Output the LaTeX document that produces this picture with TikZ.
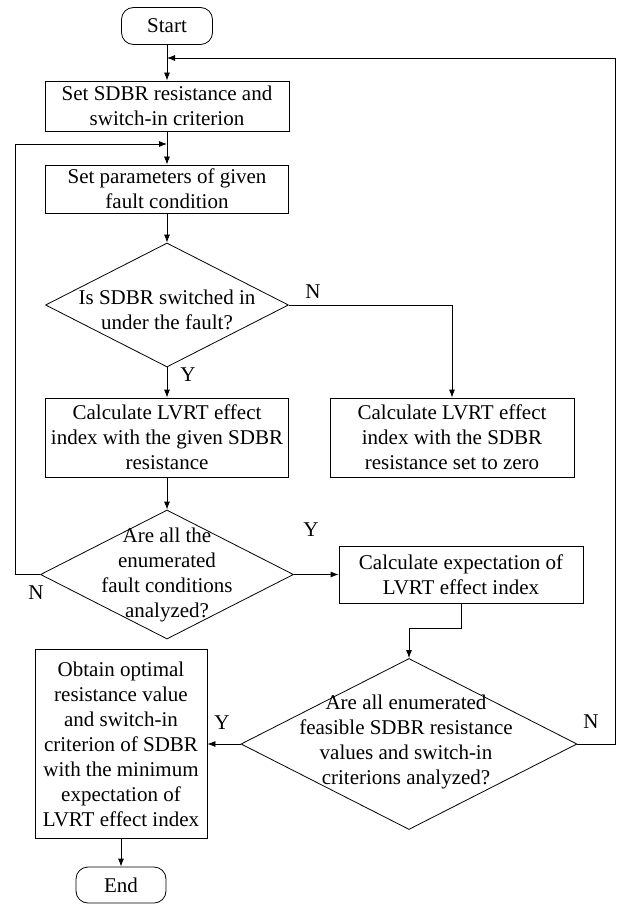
\documentclass[tikz,border=0pt]{standalone}
\usepackage{fontspec}
\setmainfont{Liberation Serif}
\usepackage{tikz}
\usetikzlibrary{shapes,arrows.meta}
\usetikzlibrary{calc}

\begin{document}
\begin{tikzpicture}[x=1pt,y=-1pt,line width=0.8pt,>={Latex[length=8pt,width=6pt]}]%%SDBR flow
                \tikzstyle{every node} = [font=\fontsize{21}{25}\selectfont]
                \tikzstyle{term}  = [draw, rectangle, rounded corners=12pt, inner sep=0pt]
                \tikzstyle{box}  = [draw, rectangle, align=center, inner sep=0pt]
                \tikzstyle{dec}  = [draw, diamond, inner sep=0pt]
                \tikzstyle{lab}  = [inner sep=0pt]
                \useasboundingbox (0,0) rectangle (616,904);
                \node [term, minimum width=91pt, minimum height=37pt](start) at (167,26) {Start};
                \node [box, minimum width=244pt, minimum height=50pt](setr) at (167,106) {Set SDBR resistance and\\switch-in criterion};
                \node [box, minimum width=243pt, minimum height=48pt](setf) at (167,189) {Set parameters of given\\fault condition};
                \node [dec, minimum width=243pt, minimum height=124pt](isin) at (167,305) {};
                \node [align=center](isint) at (167,310) {Is SDBR switched in\\under the fault?};
                \node [box, minimum width=243pt, minimum height=79pt](calcg) at (167,437.5) {Calculate LVRT effect\\index with the given SDBR\\resistance};
                \node [box, minimum width=244pt, minimum height=79pt](calcz) at (452,437.5) {Calculate LVRT effect\\index with the SDBR\\resistance set to zero};
                \node [dec, minimum width=253pt, minimum height=129pt](allf) at (167,574.5) {};
                \node [align=center](allft) at (167,574.5) {Are all the\\enumerated\\fault conditions\\analyzed?};
                \node [box, minimum width=244pt, minimum height=57pt](expc) at (461,574.5) {Calculate expectation of\\LVRT effect index};
                \node [dec, minimum width=336pt, minimum height=171pt](allr) at (409,744) {};
                \node [align=center](allrt) at (406,742) {Are all enumerated\\feasible SDBR resistance\\values and switch-in\\criterions analyzed?};
                \node [box, minimum width=172pt, minimum height=189pt](opt) at (121,744) {Obtain optimal\\resistance value\\and switch-in\\criterion of SDBR\\with the minimum\\expectation of\\LVRT effect index};
                \node [term, minimum width=90pt, minimum height=36pt](end) at (121,885) {End};
                \coordinate (j1) at (167,144);
                \coordinate (j2) at (167,58);
                \coordinate (l1) at (15,144);
                \coordinate (r1) at (615,58);
                \foreach \a/\b in {start/setr, setr/setf, setf/isin, isin/calcg, calcg/allf, allf/expc, allr/opt, opt/end}
                {
                        \draw [->] (\a) -- (\b);
                }
                \draw [->] (isin.east) -| (calcz.north);
                \draw [->] (expc.south) |- ($(expc.south)!0.45!(allr.north)$) -| (allr.north);
                \draw [->] (allf.west) -| (l1) -- (j1);
                \draw [->] (allr.east) -| (r1) -- (j2);
                \node [lab](n1) at (313,292) {N};
                \node [lab](y1) at (188,375) {Y};
                \node [lab](y2) at (311,530) {Y};
                \node [lab](n2) at (36,593) {N};
                \node [lab](y3) at (222,723) {Y};
                \node [lab](n3) at (591,722) {N};
\end{tikzpicture}
\end{document}
